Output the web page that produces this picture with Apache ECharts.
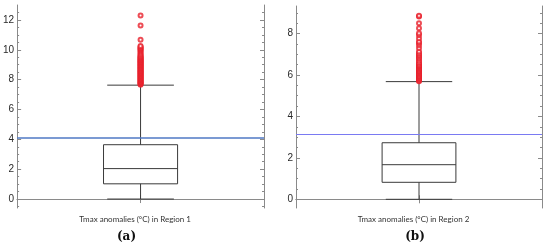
<!DOCTYPE html>
<html><head><meta charset="utf-8">
<script src="https://cdn.jsdelivr.net/npm/echarts@6/dist/echarts.min.js"></script>
<style>html,body{margin:0;padding:0;background:#fff}#c{width:550px;height:249px}</style>
</head><body><div id="c"></div>
<script>
// ---- data ----
const categories1 = ['Region 1'];
const categories2 = ['Region 2'];
// [low whisker, Q1, median, Q3, high whisker]
const box1 = [0, 1.02, 2.04, 3.64, 7.63];
const box2 = [0, 0.82, 1.67, 2.73, 5.68];
const outliers1 = [7.66, 7.70, 7.74, 7.78, 7.82, 7.86, 7.90, 7.94, 7.98, 8.02, 8.06, 8.10, 8.14, 8.18, 8.22, 8.26, 8.30, 8.34, 8.38, 8.42, 8.46, 8.50, 8.54, 8.58, 8.62, 8.66, 8.70, 8.74, 8.78, 8.82, 8.86, 8.90, 8.94, 8.98, 9.02, 9.06, 9.10, 9.14, 9.18, 9.22, 9.26, 9.30, 9.34, 9.38, 9.42, 9.46, 9.50, 9.55, 9.60, 9.66, 9.74, 9.82, 9.90, 9.97, 10.03, 10.08, 10.14, 10.20, 10.25, 10.68, 11.63, 12.30];
const outliers2 = [5.70, 5.74, 5.78, 5.82, 5.86, 5.90, 5.94, 5.98, 6.02, 6.06, 6.10, 6.14, 6.18, 6.22, 6.26, 6.30, 6.34, 6.38, 6.42, 6.46, 6.50, 6.55, 6.62, 6.70, 6.78, 6.85, 6.92, 6.98, 7.05, 7.13, 7.30, 7.45, 7.55, 7.62, 7.77, 7.93, 8.02, 8.26, 8.50, 8.82, 8.86];
const threshold1 = 4.11;
const threshold2 = 3.12;
const majorTicks1 = [0, 2, 4, 6, 8, 10, 12];
const minorTicks1 = [-0.5, 0.5, 1, 1.5, 2.5, 3, 3.5, 4.5, 5, 5.5, 6.5, 7, 7.5, 8.5, 9, 9.5, 10.5, 11, 11.5, 12.5];
const majorTicks2 = [0, 2, 4, 6, 8];
const minorTicks2 = [0.5, 1, 1.5, 2.5, 3, 3.5, 4.5, 5, 5.5, 6.5, 7, 7.5, 8.5, 9];
const axisTitle1 = 'Tmax anomalies (°C) in Region 1';
const axisTitle2 = 'Tmax anomalies (°C) in Region 2';
const panelLabels = ['(a)', '(b)'];
const yRange1 = [-0.6, 13.0];
const yRange2 = [-0.42, 9.33];

// ---- styles ----
const frameColor = '#8a8a8a';
const boxColor = '#3a3a3a';
const labelFont = 'Liberation Sans';

function yAxes(gridIndex, range, majors, minors) {
  const base = {gridIndex, type: 'value', min: range[0], max: range[1], splitLine: {show: false}};
  return [
    Object.assign({}, base, {position: 'left',
      axisLine: {show: true, lineStyle: {color: frameColor, width: 1}},
      axisTick: {show: true, inside: true, length: 4, customValues: majors, lineStyle: {color: frameColor}},
      axisLabel: {show: true, customValues: majors, margin: 3, color: '#2a2a2a', fontSize: 10, fontFamily: labelFont}}),
    Object.assign({}, base, {position: 'left',
      axisLine: {show: false},
      axisTick: {show: true, inside: true, length: 2, customValues: minors, lineStyle: {color: frameColor}},
      axisLabel: {show: false}}),
    Object.assign({}, base, {position: 'right',
      axisLine: {show: true, lineStyle: {color: frameColor, width: 1}},
      axisTick: {show: true, inside: true, length: 4, customValues: majors, lineStyle: {color: frameColor}},
      axisLabel: {show: false}}),
    Object.assign({}, base, {position: 'right',
      axisLine: {show: false},
      axisTick: {show: true, inside: true, length: 2, customValues: minors, lineStyle: {color: frameColor}},
      axisLabel: {show: false}})
  ];
}

function xAxes(gridIndex, cats, title) {
  return [
    {gridIndex, type: 'category', data: cats, position: 'bottom',
      axisLine: {show: true, lineStyle: {color: frameColor}},
      axisTick: {show: true, inside: true, alignWithLabel: true, length: 4, lineStyle: {color: frameColor}},
      axisLabel: {show: false},
      name: title, nameLocation: 'middle', nameGap: 7,
      nameTextStyle: {fontFamily: 'Lato', fontSize: 8, color: '#333', padding: [0, 11, 0, 0]}},
    {gridIndex, type: 'category', data: cats, position: 'top',
      axisLine: {show: true, lineStyle: {color: frameColor}},
      axisTick: {show: true, inside: true, alignWithLabel: true, length: 4, lineStyle: {color: frameColor}},
      axisLabel: {show: false}}
  ];
}

function boxRender(params, api) {
  const x = api.value(0);
  const low = api.coord([x, api.value(1)]);
  const q1 = api.coord([x, api.value(2)]);
  const med = api.coord([x, api.value(3)]);
  const q3 = api.coord([x, api.value(4)]);
  const high = api.coord([x, api.value(5)]);
  const band = api.size([1, 0])[0];
  const bw = band * 0.3;
  const cw = band * 0.135;
  const cx = med[0];
  const ls = {stroke: boxColor, lineWidth: 1, fill: null};
  return {type: 'group', children: [
    {type: 'rect', shape: {x: cx - bw / 2, y: q3[1], width: bw, height: q1[1] - q3[1]}, style: ls},
    {type: 'line', shape: {x1: cx - bw / 2, y1: med[1], x2: cx + bw / 2, y2: med[1]}, style: ls},
    {type: 'line', shape: {x1: cx, y1: q3[1], x2: cx, y2: high[1]}, style: ls},
    {type: 'line', shape: {x1: cx, y1: q1[1], x2: cx, y2: low[1]}, style: ls},
    {type: 'line', shape: {x1: cx - cw, y1: high[1], x2: cx + cw, y2: high[1]}, style: ls},
    {type: 'line', shape: {x1: cx - cw, y1: low[1], x2: cx + cw, y2: low[1]}, style: ls}
  ]};
}

function seriesFor(idx, box, outliers, threshold, lineColor, lineWidth) {
  const xi = idx * 2, yi = idx * 4;
  return [
    {type: 'custom', xAxisIndex: xi, yAxisIndex: yi, renderItem: boxRender,
      data: [[0].concat(box)], encode: {x: 0, y: [1, 2, 3, 4, 5]}, silent: true, z: 3},
    {type: 'scatter', xAxisIndex: xi, yAxisIndex: yi, symbol: 'emptyCircle', symbolSize: 4,
      itemStyle: {color: '#e8202c', borderColor: '#e8202c', borderWidth: 1},
      data: outliers.map(v => [0, v]), silent: true, z: 4,
      markLine: {silent: true, symbol: ['none', 'none'], label: {show: false},
        lineStyle: {color: lineColor, width: lineWidth, type: 'solid'},
        data: [{yAxis: threshold}]}}
  ];
}

const chart = echarts.init(document.getElementById('c'), null, {renderer: 'canvas'});
chart.setOption({
  animation: false,
  backgroundColor: '#fff',
  grid: [
    {left: 17, top: 5, width: 247, height: 203},
    {left: 296, top: 6, width: 246, height: 202}
  ],
  xAxis: [].concat(xAxes(0, categories1, axisTitle1), xAxes(1, categories2, axisTitle2)),
  yAxis: [].concat(yAxes(0, yRange1, majorTicks1, minorTicks1), yAxes(1, yRange2, majorTicks2, minorTicks2)),
  series: [].concat(
    seriesFor(0, box1, outliers1, threshold1, '#4f79c4', 1.5),
    seriesFor(1, box2, outliers2, threshold2, '#7a7af2', 1)
  ),
  graphic: [
    {type: 'text', x: 126.5, y: 237, style: {text: panelLabels[0], textAlign: 'center', textVerticalAlign: 'middle', font: 'bold 12px "DejaVu Serif"', fill: '#111'}},
    {type: 'text', x: 415, y: 237, style: {text: panelLabels[1], textAlign: 'center', textVerticalAlign: 'middle', font: 'bold 12px "DejaVu Serif"', fill: '#111'}}
  ]
});
</script></body></html>
